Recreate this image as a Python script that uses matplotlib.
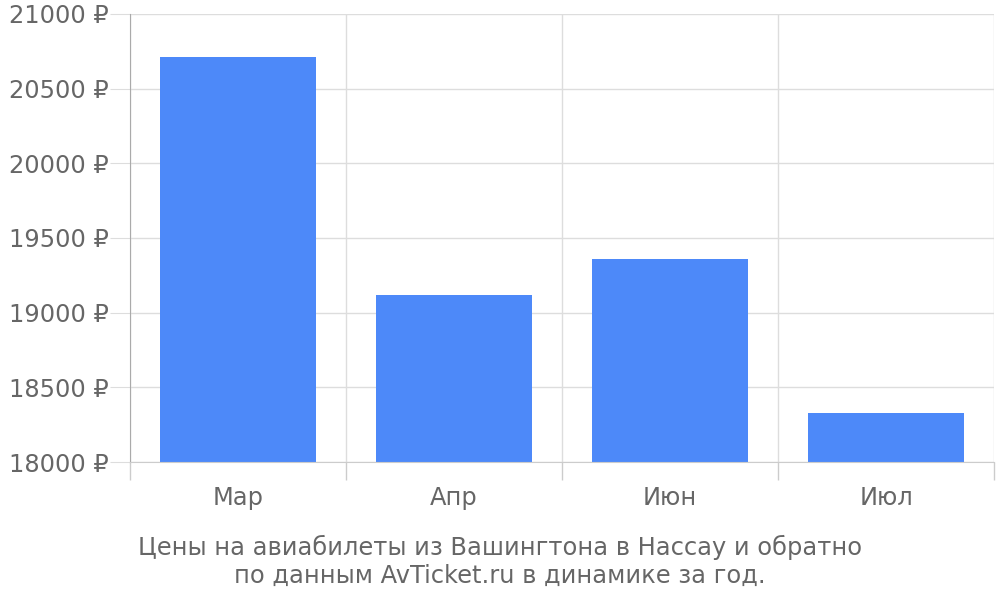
import matplotlib
matplotlib.use("Agg")
import matplotlib.pyplot as plt
from matplotlib.ticker import FixedLocator

months = ["Мар", "Апр", "Июн", "Июл"]
prices = [20712, 19118, 19359, 18325]
y_ticks = [18000, 18500, 19000, 19500, 20000, 20500, 21000]
caption = "Цены на авиабилеты из Вашингтона в Нассау и обратно\nпо данным AvTicket.ru в динамике за год."

plt.rcParams['font.family'] = ['DejaVu Sans']
fs = 17.4
fig = plt.figure(figsize=(10, 6), dpi=100)
ax = fig.add_axes([0.13, 0.23, 0.864, 0.7467])

x = list(range(len(months)))
ax.bar(x, prices, width=0.72, color="#4d89f9", zorder=3)

ax.set_xlim(-0.5, len(months) - 0.5)
ax.set_ylim(18000, 21000)

ax.set_yticks(y_ticks)
ax.set_yticklabels([f"{v} ₽" for v in y_ticks])
ax.tick_params(axis="y", length=14.4, color="#dddddd", labelcolor="#666666", labelsize=fs, pad=1)

ax.set_xticks(x)
ax.set_xticklabels(months)
ax.tick_params(axis="x", which="major", length=0, labelcolor="#666666", labelsize=fs, pad=17)
ax.xaxis.set_minor_locator(FixedLocator([i - 0.5 for i in range(len(months) + 1)]))
ax.tick_params(axis="x", which="minor", length=13, color="#cccccc", width=1)

ax.grid(axis="y", color="#dddddd", linewidth=1, zorder=0)
ax.grid(axis="x", which="minor", color="#dddddd", linewidth=1, zorder=0)

for s in ["top", "right"]:
    ax.spines[s].set_visible(False)
ax.spines["left"].set_color("#aaaaaa")
ax.spines["bottom"].set_color("#cccccc")
ax.spines["left"].set_zorder(4)
ax.spines["bottom"].set_zorder(4)

fig.text(0.5, 0.064, caption, ha="center", va="center", color="#666666", fontsize=fs, linespacing=1.22)

fig.savefig("out.png", dpi=100, facecolor="white")
